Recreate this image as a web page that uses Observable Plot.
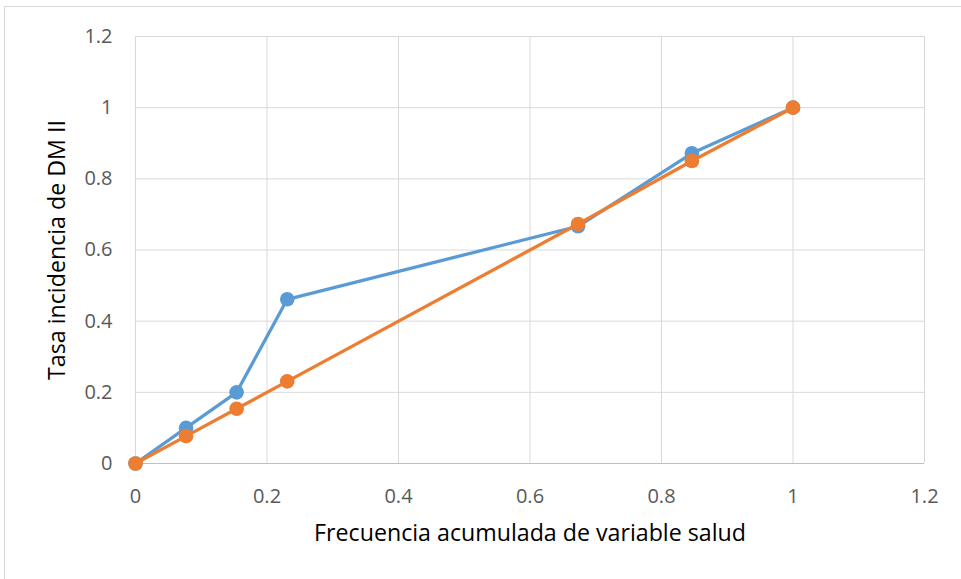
<!DOCTYPE html>
<html>
<head>
<meta charset="utf-8">
<script src="https://cdn.jsdelivr.net/npm/d3@7"></script>
<script src="https://cdn.jsdelivr.net/npm/@observablehq/plot@0.6"></script>
<style>
  html, body { margin: 0; padding: 0; background: #fff; }
  #wrap { position: relative; width: 961px; height: 579px; overflow: hidden; }
  #border { position: absolute; left: 4px; top: 6px; width: 1000px; height: 1000px;
            border-left: 1px solid #d9d9d9; border-top: 1px solid #d9d9d9; }
  #chart { position: absolute; left: 0; top: 0; }
</style>
</head>
<body>
<div id="wrap"><div id="border"></div><div id="chart"></div></div>
<script>
// Cumulative frequency of the health variable (x) and DM II incidence rate (y)
const frecuencia = [0, 0.0769, 0.1538, 0.2308, 0.6731, 0.8462, 1];
const tasaObservada = [0, 0.1, 0.2, 0.4615, 0.6667, 0.8718, 1];
const tasaIgualdad = [0, 0.0769, 0.1538, 0.2308, 0.6731, 0.85, 1];
const ticks = [0, 0.2, 0.4, 0.6, 0.8, 1, 1.2];
const xTitle = "Frecuencia acumulada de variable salud";
const yTitle = "Tasa incidencia de DM II";

const blue = frecuencia.map((x, i) => ({x, y: tasaObservada[i]}));
const orange = frecuencia.map((x, i) => ({x, y: tasaIgualdad[i]}));

const chart = Plot.plot({
  width: 961,
  height: 579,
  marginLeft: 135,
  marginRight: 37,
  marginTop: 36,
  marginBottom: 116,
  style: {fontFamily: "'Open Sans', sans-serif", fontSize: "20px", color: "#595959", background: "transparent"},
  x: {domain: [0, 1.2], ticks, tickSize: 0, tickPadding: 25, tickFormat: d => String(d), label: null},
  y: {domain: [0, 1.2], ticks, tickSize: 0, tickPadding: 23, tickFormat: d => String(d), label: null},
  marks: [
    Plot.gridX(ticks, {stroke: "#d9d9d9", strokeOpacity: 1, strokeWidth: 1}),
    Plot.gridY(ticks, {stroke: "#d9d9d9", strokeOpacity: 1, strokeWidth: 1}),
    Plot.ruleY([0], {stroke: "#bfbfbf", strokeWidth: 1}),
    Plot.line(blue, {x: "x", y: "y", stroke: "#5b9bd5", strokeWidth: 3.3}),
    Plot.dot(blue, {x: "x", y: "y", r: 7.3, fill: "#5b9bd5", stroke: "none"}),
    Plot.line(orange, {x: "x", y: "y", stroke: "#ed7d31", strokeWidth: 3.3}),
    Plot.dot(orange, {x: "x", y: "y", r: 7.3, fill: "#ed7d31", stroke: "none"}),
    Plot.text([xTitle], {frameAnchor: "bottom", dy: 77, fontSize: 23.2, fill: "#000", textAnchor: "middle"}),
    Plot.text([yTitle], {frameAnchor: "left", dx: -78, rotate: -90, fontSize: 23.2, fill: "#000", textAnchor: "middle"})
  ]
});
document.getElementById("chart").appendChild(chart);
</script>
</body>
</html>
